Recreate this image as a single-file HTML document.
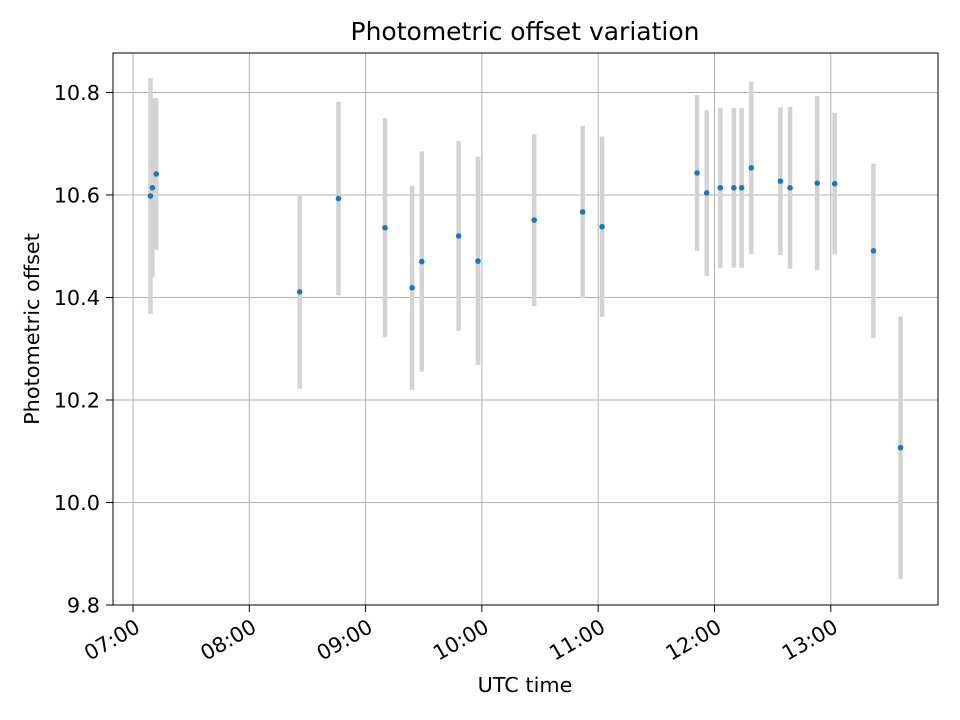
<!DOCTYPE html>
<html><head><meta charset="utf-8"><style>
html,body{margin:0;padding:0;background:#fff;}
svg{display:block;font-family:"DejaVu Sans","Liberation Sans",sans-serif;}
</style></head>
<body>
<svg id="chart" width="960" height="720" viewBox="0 0 960 720" xmlns="http://www.w3.org/2000/svg">
<rect width="960" height="720" fill="#fff"/>
<text x="525" y="40" font-size="25" text-anchor="middle" font-family="DejaVu Sans, sans-serif">Photometric offset variation</text>
<g id="grid"></g><g id="errs"></g><g id="pts"></g><g id="axes"></g>
<rect x="113" y="53" width="825" height="552" fill="none" stroke="#000" stroke-width="1"/>
<text x="525" y="692" font-size="20.8" text-anchor="middle" font-family="DejaVu Sans, sans-serif">UTC time</text>
<text transform="translate(39,329) rotate(-90)" font-size="20.8" text-anchor="middle" font-family="DejaVu Sans, sans-serif">Photometric offset</text>
</svg>
<script>
const times = ["07:09","07:10","07:12","08:26","08:46","09:10","09:24","09:29","09:48","09:58","10:27","10:52","11:02","11:51","11:56","12:03","12:10","12:14","12:19","12:34","12:39","12:53","13:02","13:22","13:36"];
const offsets = [10.598,10.614,10.641,10.411,10.593,10.536,10.419,10.470,10.520,10.471,10.551,10.567,10.538,10.643,10.604,10.614,10.614,10.614,10.653,10.627,10.614,10.623,10.622,10.491,10.107];
const errors = [0.230,0.175,0.148,0.189,0.189,0.214,0.199,0.215,0.185,0.203,0.168,0.168,0.176,0.152,0.162,0.156,0.156,0.156,0.168,0.144,0.158,0.170,0.138,0.170,0.256];
const xTickLabels = ["07:00","08:00","09:00","10:00","11:00","12:00","13:00"];
const yTickLabels = ["9.8","10.0","10.2","10.4","10.6","10.8"];

const NS="http://www.w3.org/2000/svg";
const L=113,R=938,T=53,B=605;
const xMin=6.828,xMax=13.922,yMin=9.8,yMax=10.877;
function toH(s){const p=s.split(":");return +p[0]+ +p[1]/60;}
function xs(h){return L+(h-xMin)/(xMax-xMin)*(R-L);}
function ys(v){return B-(v-yMin)/(yMax-yMin)*(B-T);}
function mk(tag,attrs,parent){const e=document.createElementNS(NS,tag);for(const k in attrs)e.setAttribute(k,attrs[k]);parent.appendChild(e);return e;}
const grid=document.getElementById('grid'),axes=document.getElementById('axes'),errs=document.getElementById('errs'),pts=document.getElementById('pts');
xTickLabels.forEach(t=>{
  const x=xs(toH(t));
  const g=mk('line',{x1:x,x2:x,y1:T,y2:B,stroke:'#b0b0b0','stroke-width':1},grid);
  
  
  const tk=mk('line',{x1:x,x2:x,y1:B,y2:B+7,stroke:'#000'},axes);
  
  
  const tx=mk('text',{x:0,y:15,'font-size':20.8,'text-anchor':'end',transform:`translate(${x+1},${B+13}) rotate(-30)`},axes);
  tx.textContent=t;
  
  
});
yTickLabels.forEach(t=>{
  const y=ys(parseFloat(t));
  const g=mk('line',{x1:L,x2:R,y1:y,y2:y,stroke:'#b0b0b0','stroke-width':1},grid);
  
  
  const tk=mk('line',{x1:L-7,x2:L,y1:y,y2:y,stroke:'#000'},axes);
  
  
  const tx=mk('text',{x:L-13,y:y+7.5,'font-size':20.8,'text-anchor':'end'},axes);
  tx.textContent=t;
  
  
});
times.forEach((t,i)=>{
  const x=xs(toH(t));
  const e=mk('line',{x1:x,x2:x,y1:ys(offsets[i]+errors[i]),y2:ys(offsets[i]-errors[i]),stroke:'#d3d3d3','stroke-width':4.5},errs);
  
  
  const c=mk('circle',{cx:x,cy:ys(offsets[i]),r:2.8,fill:'#1f77b4'},pts);
  
  
});
</script>
</body></html>
